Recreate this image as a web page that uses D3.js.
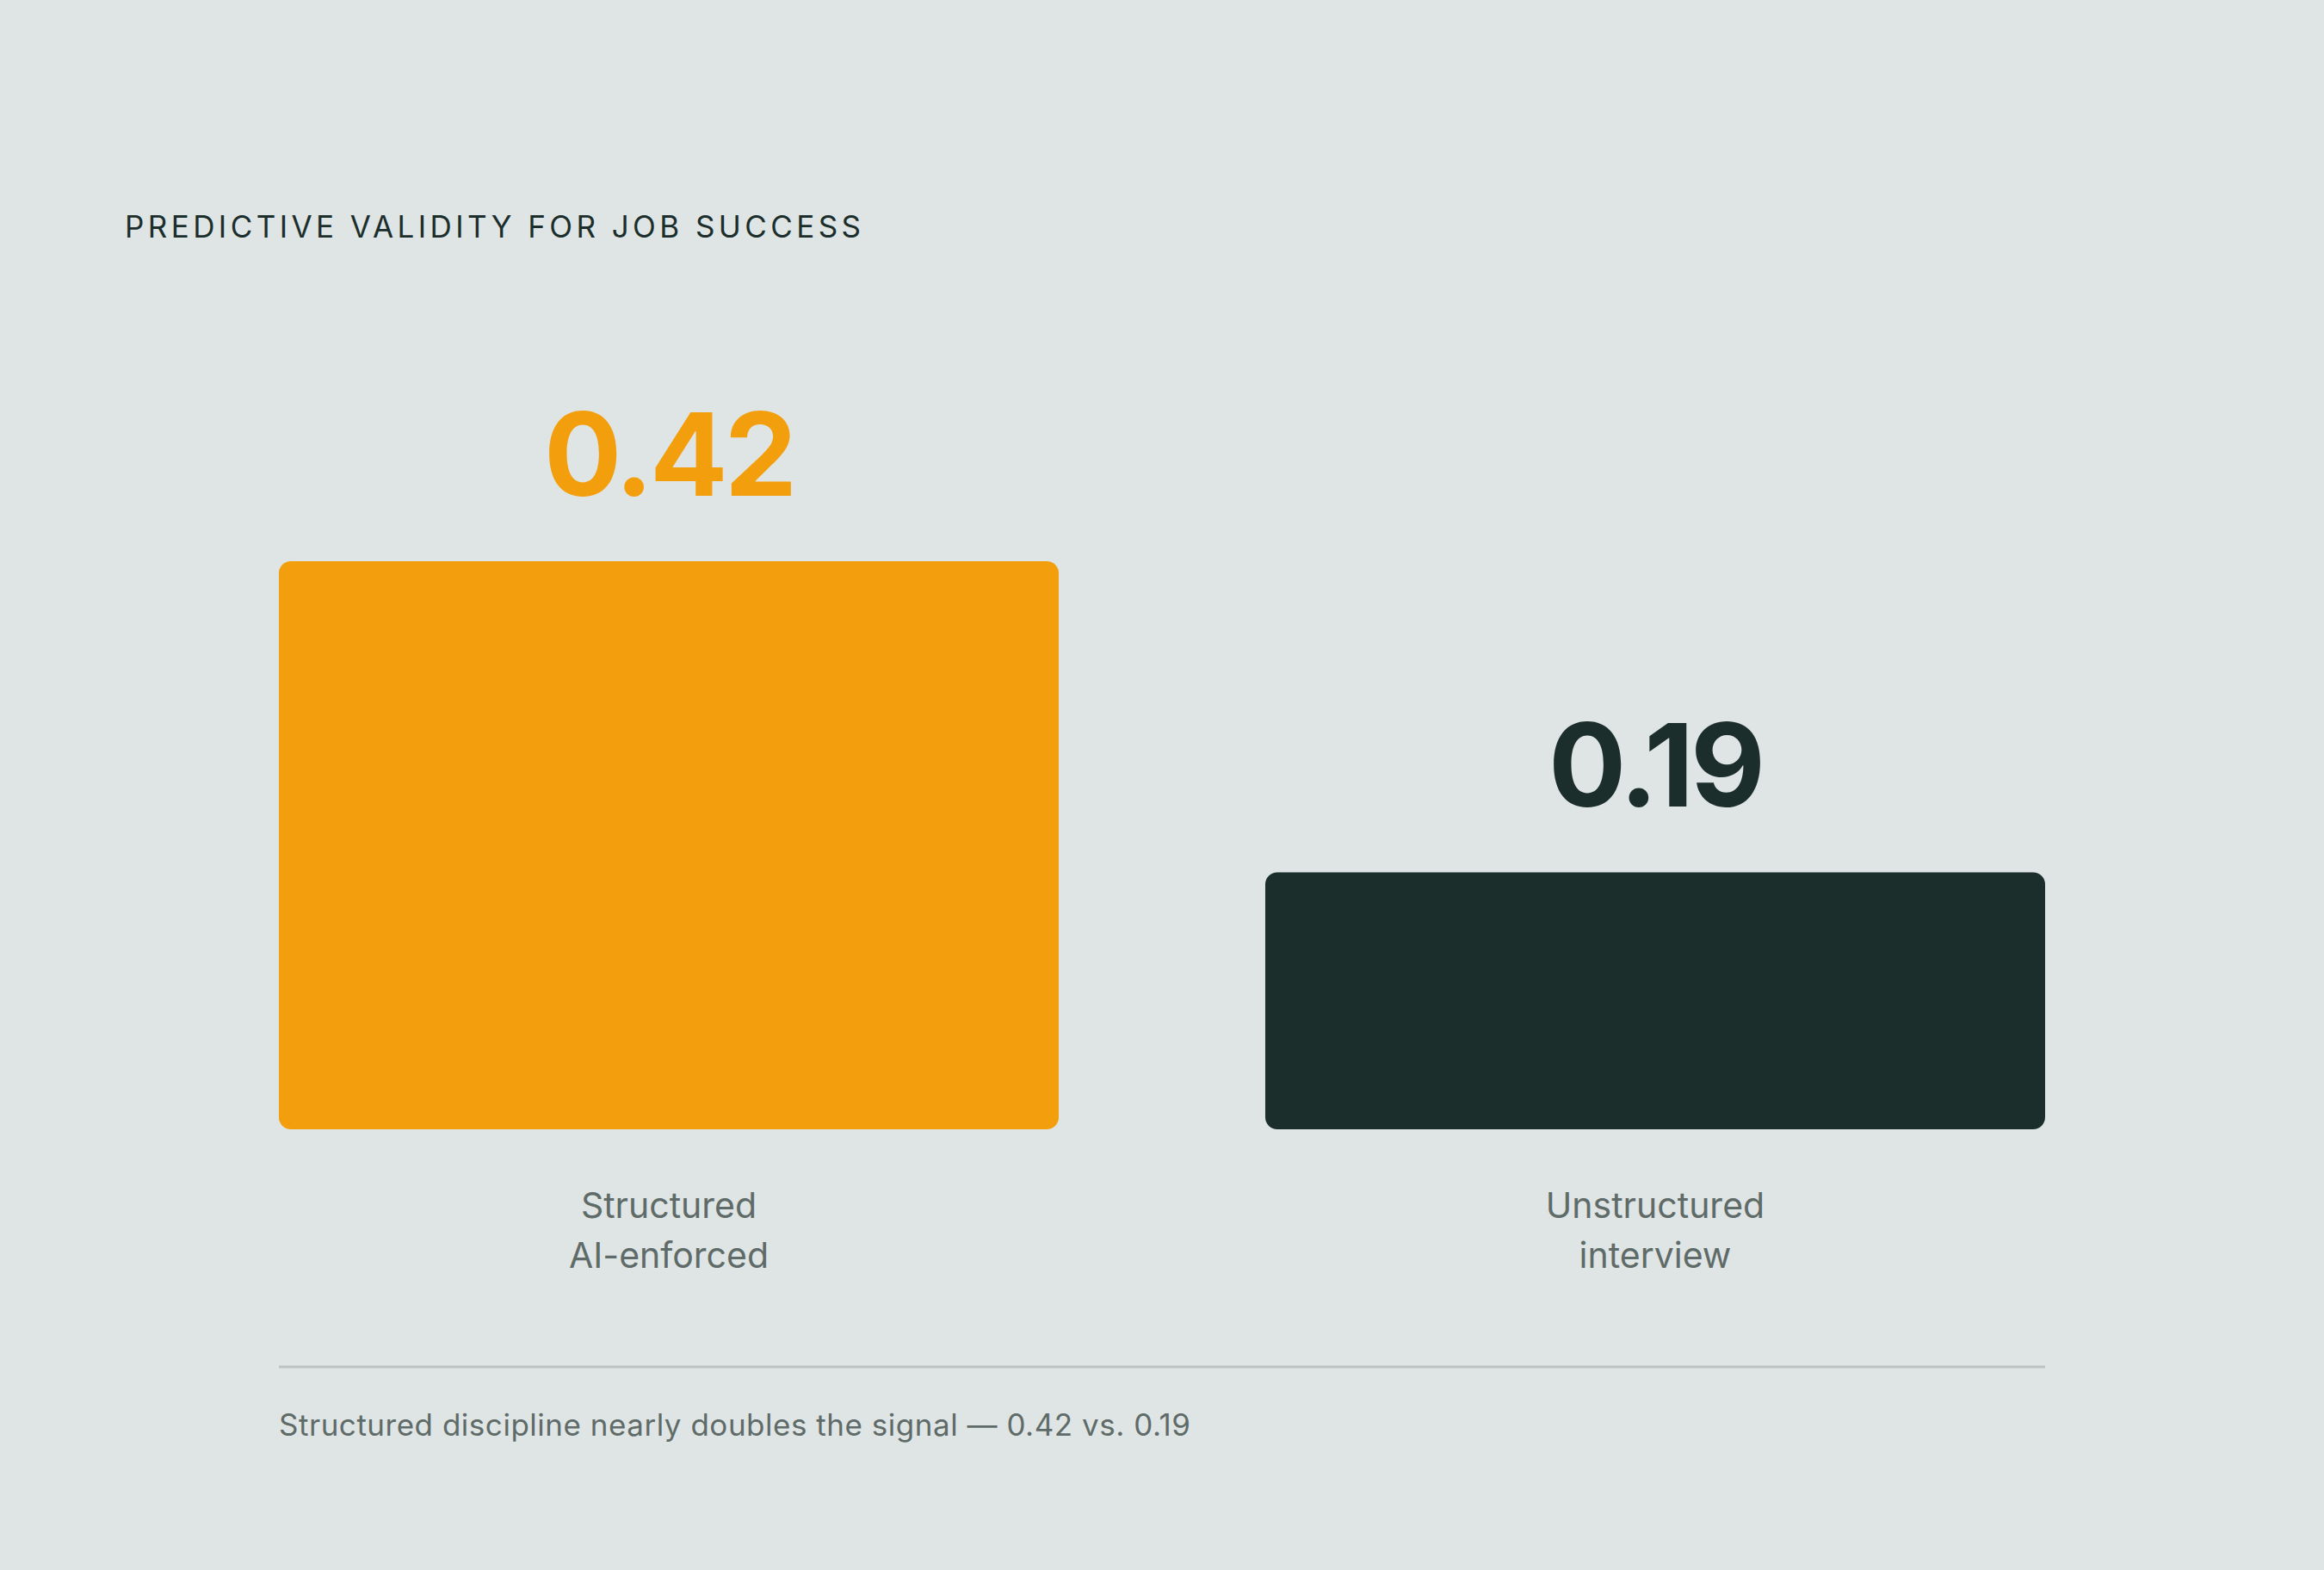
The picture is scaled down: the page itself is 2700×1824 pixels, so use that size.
<!DOCTYPE html>
<html>
<head>
<meta charset="utf-8">
<script src="https://cdn.jsdelivr.net/npm/d3@7"></script>
<style>
  html, body { margin: 0; padding: 0; background: #dfe5e5; }
  svg { display: block; font-family: Inter, "DejaVu Sans", sans-serif; }
</style>
</head>
<body>
<div id="chart"></div>
<script>
// chart data
const categories = ["Structured\nAI-enforced", "Unstructured\ninterview"];
const values = [0.42, 0.19];
const valueLabels = ["0.42", "0.19"];
const barColors = ["#f39f0d", "#1b2e2c"];
const title = "PREDICTIVE VALIDITY FOR JOB SUCCESS";
const footnote = "Structured discipline nearly doubles the signal \u2014 0.42 vs. 0.19";

(function() {
  var width = 2700;
  var height = 1824;

  var svg = d3.select("#chart").append("svg")
      .attr("width", width)
      .attr("height", height);

  svg.append("rect")
      .attr("width", width)
      .attr("height", height)
      .attr("fill", "#dfe5e5");

  var x = d3.scaleBand()
      .domain(categories)
      .range([324, 2376])
      .paddingInner(0.2094)
      .paddingOuter(0);

  var y = d3.scaleLinear()
      .domain([0, 0.42])
      .range([1312, 652]);

  // spread a text out so it ends at a given width
  var fitSpacing = function(sel, target) {
    var w = sel.node().getComputedTextLength();
    var n = sel.text().length;
    sel.style("letter-spacing", ((target - w) / (n - 1)) + "px");
  };

  var t = svg.append("text")
      .attr("x", 145)
      .attr("y", 276)
      .attr("fill", "#1b2e2c")
      .style("font-size", "35px")
      .style("font-weight", 400)
      .text(title);
  fitSpacing(t, 855);

  var data = categories.map((c, i) => ({cat: c, value: values[i], label: valueLabels[i], color: barColors[i]}));

  svg.append("g")
    .selectAll("rect")
    .data(data)
    .enter().append("rect")
      .attr("x", d => x(d.cat))
      .attr("y", d => y(d.value))
      .attr("width", x.bandwidth())
      .attr("height", d => y(0) - y(d.value))
      .attr("rx", 14)
      .attr("fill", d => d.color);

  svg.append("g")
    .selectAll("text")
    .data(data)
    .enter().append("text")
      .attr("x", d => x(d.cat) + x.bandwidth() / 2)
      .attr("y", d => y(d.value) - 76)
      .attr("text-anchor", "middle")
      .attr("fill", d => d.color)
      .style("font-size", "134px")
      .style("font-weight", 700)
      .style("letter-spacing", "-4px")
      .text(d => d.label);

  var catText = svg.append("g")
    .selectAll("text")
    .data(data)
    .enter().append("text")
      .attr("x", d => x(d.cat) + x.bandwidth() / 2)
      .attr("y", 1415)
      .attr("text-anchor", "middle")
      .attr("fill", "#5f6b68")
      .style("font-size", "41px")
      .style("font-weight", 400);

  catText.selectAll("tspan")
    .data(d => d.cat.split("\n").map(s => ({s: s, x: x(d.cat) + x.bandwidth() / 2})))
    .enter().append("tspan")
      .attr("x", d => d.x)
      .attr("dy", (d, i) => i ? 58 : 0)
      .text(d => d.s);

  svg.append("line")
      .attr("x1", x.range()[0])
      .attr("x2", x.range()[1])
      .attr("y1", 1588)
      .attr("y2", 1588)
      .attr("stroke", "#bcc3c3")
      .attr("stroke-width", 3);

  var f = svg.append("text")
      .attr("x", 324)
      .attr("y", 1668)
      .attr("fill", "#5f6b68")
      .style("font-size", "35px")
      .style("font-weight", 400)
      .text(footnote);
  fitSpacing(f, 1059);
})();
</script>
</body>
</html>
